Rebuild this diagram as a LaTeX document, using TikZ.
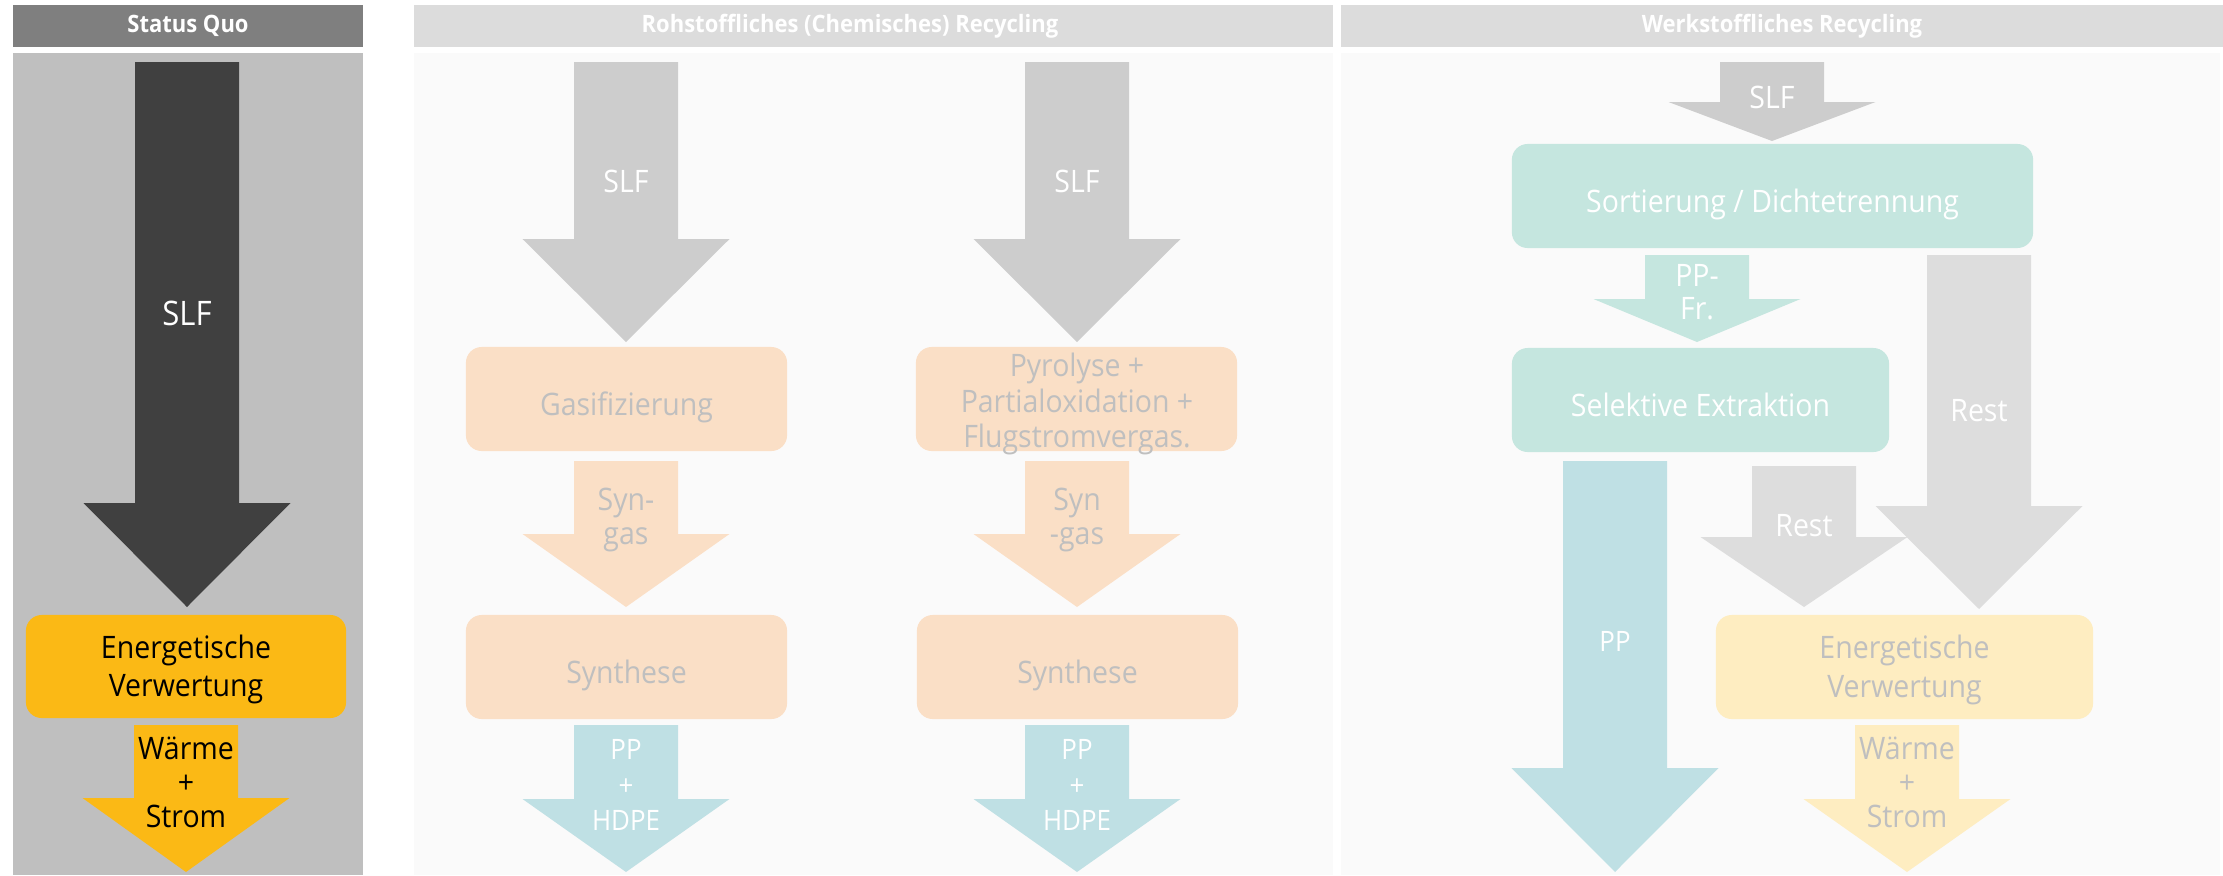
\documentclass[tikz,border=0pt]{standalone}
\usepackage{fontspec}
\setmainfont{Open Sans}[FakeStretch=0.92]
\usepackage{tikz}
\definecolor{quobar}{RGB}{127,127,127}
\definecolor{quopanel}{RGB}{191,191,191}
\definecolor{slfdark}{RGB}{64,64,64}
\definecolor{energyyellow}{RGB}{251,185,21}
\definecolor{headbar}{RGB}{220,220,220}
\definecolor{panelbg}{RGB}{250,250,250}
\definecolor{slfgray}{RGB}{205,205,205}
\definecolor{restgray}{RGB}{221,221,221}
\definecolor{peach}{RGB}{250,223,198}
\definecolor{ppblue}{RGB}{191,224,228}
\definecolor{mint}{RGB}{197,230,223}
\definecolor{paleyellow}{RGB}{254,237,193}
\definecolor{fadetext}{RGB}{191,191,191}

\tikzset{
  headlabel/.style={inner sep=0pt, text=white, font=\fontsize{6.8}{8}\selectfont\bfseries},
  flowlabel/.style={align=center, inner sep=0pt, font=\fontsize{8.8}{10}\selectfont},
  stagebox/.style={rounded corners=4.5pt, inner sep=0pt, minimum height=1.04cm,
    align=center, font=\fontsize{8.8}{11}\selectfont},
  oneline/.style={text height=9.1pt, text depth=0pt},
}

% block arrow: fill, centre x, shaft top, head base, tip
\newcommand{\flowarrow}[5]{%
  \fill[#1] (#2-52,#3) -- (#2+52,#3) -- (#2+52,#4) -- (#2+103.5,#4)
    -- (#2,#5) -- (#2-103.5,#4) -- (#2-52,#4) -- cycle;
}
% taller first line, pulls two-line box text down a little
\newcommand{\topstrut}{\rule{0pt}{8.4pt}}

\begin{document}
\begin{tikzpicture}[x=0.01cm, y=-0.01cm]
\useasboundingbox (0,0) rectangle (2223,875);

% columns
\fill[quobar] (13,5) rectangle (363,47);
\fill[quopanel] (13,53) rectangle (363,875);
\fill[headbar] (414,5) rectangle (1333,47);
\fill[panelbg] (414,53) rectangle (1333,875);
\fill[headbar] (1341,5) rectangle (2223,47);
\fill[panelbg] (1341,53) rectangle (2220,875);

\node (quotitle) [headlabel] at (188,26) {Status Quo};
\node (chemtitle) [headlabel] at (850,26) {Rohstoffliches (Chemisches) Recycling};
\node (werktitle) [headlabel] at (1782,26) {Werkstoffliches Recycling};

% status quo
\flowarrow{slfdark}{187}{62}{503}{607}
\flowarrow{energyyellow}{186}{725}{798}{872}
\node (quoslf) [flowlabel, text=white, font=\fontsize{9.6}{11}\selectfont] at (187,313) {SLF};
\node (quoenergy) [
    stagebox,
    fill=energyyellow,
    minimum width=3.2cm,
    minimum height=1.03cm
] at (186,666.5) {\topstrut Energetische\\Verwertung};
\node (quoheat) [flowlabel, font=\fontsize{8.8}{9.7}\selectfont] at (186,782) {Wärme\\+\\Strom};

% rohstoffliches recycling
\foreach \cx/\tag in {626/a, 1077/b} {
  \flowarrow{slfgray}{\cx}{62}{239}{342}
  \flowarrow{peach}{\cx}{461}{534}{607}
  \flowarrow{ppblue}{\cx}{725}{799}{872}
  \node (chemslf\tag) [flowlabel, text=white] at (\cx,181) {SLF};
  \node (synth\tag) [stagebox, oneline, fill=peach, text=fadetext, minimum width=3.21cm] at (\cx+0.5,667) {Synthese};
  \node (product\tag) [flowlabel, text=white, font=\fontsize{8}{10.2}\selectfont] at (\cx,785) {PP\\+\\HDPE};
}
\node (gasif) [stagebox, oneline, fill=peach, text=fadetext, minimum width=3.21cm] at (626.5,399) {Gasifizierung};
\node (pyro) [stagebox, fill=peach, minimum width=3.21cm] at (1076.5,399) {};
\node (pyrotext) [flowlabel, text=fadetext] at (1077,404) {Pyrolyse +\\Partialoxidation +\\Flugstromvergas.};
\node (syngasa) [flowlabel, text=fadetext, font=\fontsize{8.8}{9.6}\selectfont] at (626,520) {Syn-\\gas};
\node (syngasb) [flowlabel, text=fadetext, font=\fontsize{8.8}{9.6}\selectfont] at (1077,520) {Syn\\-gas};

% werkstoffliches recycling
\flowarrow{slfgray}{1772}{62}{102}{141}
\flowarrow{mint}{1697}{255}{299}{342}
\flowarrow{restgray}{1804}{466}{537}{607}
\flowarrow{restgray}{1979}{255}{506}{609}
\flowarrow{ppblue}{1615}{461}{768}{872}
\flowarrow{paleyellow}{1907}{725}{799}{872}

\node (werkslf) [flowlabel, text=white] at (1772,97) {SLF};
\node (sort) [stagebox, oneline, fill=mint, text=white, minimum width=5.21cm] at (1772.5,196) {Sortierung / Dichtetrennung};
\node (ppfrac) [flowlabel, text=white, font=\fontsize{8.8}{9.4}\selectfont] at (1697,292) {PP-\\Fr.};
\node (extract) [stagebox, oneline, fill=mint, text=white, minimum width=3.77cm] at (1700.5,400) {Selektive Extraktion};
\node (restbig) [flowlabel, text=white] at (1979,411) {Rest};
\node (restsmall) [flowlabel, text=white] at (1804,526) {Rest};
\node (ppout) [flowlabel, text=white, font=\fontsize{8}{10}\selectfont] at (1615,641) {PP};
\node (werkenergy) [stagebox, fill=paleyellow, text=fadetext, minimum width=3.77cm] at (1904.5,667) {\topstrut Energetische\\Verwertung};
\node (werkheat) [flowlabel, text=fadetext, font=\fontsize{8.8}{9.7}\selectfont] at (1907,782) {Wärme\\+\\Strom};
\end{tikzpicture}
\end{document}
